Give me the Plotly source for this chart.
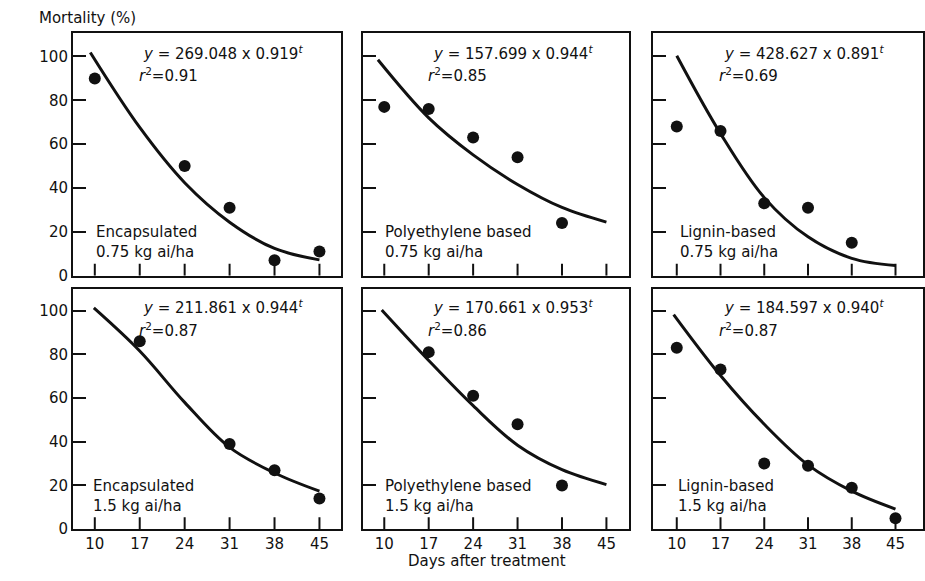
import plotly.graph_objects as go

# ---- data -------------------------------------------------------------
DAY_TICKS = [10, 17, 24, 31, 38, 45]
MORTALITY_TICKS = [0, 20, 40, 60, 80, 100]

formulation = ["Encapsulated", "Polyethylene based", "Lignin-based",
               "Encapsulated", "Polyethylene based", "Lignin-based"]
dose = ["0.75 kg ai/ha", "0.75 kg ai/ha", "0.75 kg ai/ha",
        "1.5 kg ai/ha", "1.5 kg ai/ha", "1.5 kg ai/ha"]

# fitted model y = a x b^t and its r^2, as printed on each panel
coef_a = ["269.048", "157.699", "428.627", "211.861", "170.661", "184.597"]
coef_b = ["0.919", "0.944", "0.891", "0.944", "0.953", "0.940"]
r_squared = ["0.91", "0.85", "0.69", "0.87", "0.86", "0.87"]

# observed mortality (%)
obs_days = [
    [10, 24, 31, 38, 45],
    [10, 17, 24, 31, 38],
    [10, 17, 24, 31, 38],
    [17, 31, 38, 45],
    [17, 24, 31, 38],
    [10, 17, 24, 31, 38, 45],
]
obs_mortality = [
    [90, 50, 31, 7, 11],
    [77, 76, 63, 54, 24],
    [68, 66, 33, 31, 15],
    [86, 39, 27, 14],
    [81, 61, 48, 20],
    [83, 73, 30, 29, 19, 5],
]

# fitted decline curves
fit_days = [
    [9.3, 17, 24, 31, 38, 45],
    [9.0, 17, 24, 31, 38, 45],
    [10, 17, 24, 31, 38, 45],
    [9.85, 17, 24, 31, 38, 45],
    [9.6, 17, 24, 31, 38, 45],
    [9.5, 17, 24, 31, 38, 45],
]
fit_mortality = [
    [101.8, 67.6, 42.4, 24.4, 12.4, 7.2],
    [98.5, 72.0, 55.1, 41.6, 31.1, 24.4],
    [100.3, 64.8, 35.6, 17.7, 7.9, 4.6],
    [101.2, 81.5, 58.0, 37.4, 25.7, 17.4],
    [100.3, 77.2, 56.5, 38.4, 27.2, 20.4],
    [98.2, 70.3, 48.0, 29.4, 17.4, 9.2],
]

# ---- layout / style ---------------------------------------------------
INK = "#111111"
FONT = "DejaVu Sans"
FIG_W, FIG_H = 925, 581
COL_DOMAINS = [(0.0789, 0.3686), (0.3921, 0.6803), (0.7063, 0.9975)]
ROW_DOMAINS = [(0.5181, 0.9415), (0.0749, 0.4952)]
COL_XRANGES = [(6.6, 48.35), (6.6, 48.6), (6.25, 49.35)]
ROW_YRANGES = [(0, 110.5), (0, 110)]
LABEL_X = [0.077, 0.075, 0.092, 0.068, 0.075, 0.083]
X_TICK_PX = 12
TICK_W = 2
FRAME_W = 2

fig = go.Figure()
layout = {}
annotations = []

for i in range(6):
    row, col = divmod(i, 3)
    n = "" if i == 0 else str(i + 1)
    xa, ya = "x" + n, "y" + n
    y0, y1 = ROW_YRANGES[row]
    d0, d1 = ROW_DOMAINS[row]
    # tick length expressed in axis units so it stays X_TICK_PX tall
    tick_h = X_TICK_PX * (y1 - y0) / ((d1 - d0) * FIG_H)

    # upward day ticks standing on the bottom frame line
    tx, ty = [], []
    for d in DAY_TICKS:
        tx += [d, d, None]
        ty += [y0, y0 + tick_h, None]
    fig.add_trace(go.Scatter(
        x=tx, y=ty, mode="lines", line=dict(color=INK, width=TICK_W),
        xaxis=xa, yaxis=ya, hoverinfo="skip", cliponaxis=False))

    fig.add_trace(go.Scatter(
        x=fit_days[i], y=fit_mortality[i], mode="lines",
        line=dict(color=INK, width=3, shape="spline", smoothing=1.0),
        xaxis=xa, yaxis=ya, hoverinfo="skip"))
    fig.add_trace(go.Scatter(
        x=obs_days[i], y=obs_mortality[i], mode="markers",
        marker=dict(color=INK, size=12),
        xaxis=xa, yaxis=ya))

    layout["xaxis" + n] = dict(
        domain=COL_DOMAINS[col], range=COL_XRANGES[col], anchor=ya,
        tickmode="linear", tick0=DAY_TICKS[0],
        dtick=DAY_TICKS[1] - DAY_TICKS[0], ticks="",
        showticklabels=(row == 1),
        showline=True, mirror=True, linewidth=FRAME_W, linecolor=INK,
        showgrid=False, zeroline=False,
        tickfont=dict(family=FONT, size=15, color=INK))
    layout["yaxis" + n] = dict(
        domain=ROW_DOMAINS[row], range=ROW_YRANGES[row], anchor=xa,
        tickmode="linear", tick0=MORTALITY_TICKS[0],
        dtick=MORTALITY_TICKS[1] - MORTALITY_TICKS[0],
        ticks="inside", ticklen=13, tickwidth=TICK_W, tickcolor=INK,
        showticklabels=(col == 0),
        showline=True, mirror=True, linewidth=FRAME_W, linecolor=INK,
        showgrid=False, zeroline=False,
        tickfont=dict(family=FONT, size=15, color=INK))

    dom = f"{xa} domain"
    ydom = f"{ya} domain"
    eq_y = 0.92 if row == 0 else 0.923
    annotations.append(dict(
        xref=dom, yref=ydom, x=0.255, y=eq_y, xanchor="left", yanchor="middle",
        text=f"<i>y</i> = {coef_a[i]} x {coef_b[i]}<sup><i>t</i></sup>",
        showarrow=False, font=dict(family=FONT, size=15, color=INK)))
    annotations.append(dict(
        xref=dom, yref=ydom, x=0.238, y=eq_y - 0.093, xanchor="left",
        yanchor="middle", text=f"<i>r</i><sup>2</sup>={r_squared[i]}",
        showarrow=False, font=dict(family=FONT, size=15, color=INK)))
    annotations.append(dict(
        xref=dom, yref=ydom, x=LABEL_X[i], y=0.137, xanchor="left",
        yanchor="middle", align="left",
        text=f"{formulation[i]}<br>{dose[i]}",
        showarrow=False, font=dict(family=FONT, size=15, color=INK)))

# short outward ticks on the left-hand column
for k, base, anchor, row in ((7, "y", "x", 0), (8, "y4", "x4", 1)):
    layout[f"yaxis{k}"] = dict(
        overlaying=base, anchor=anchor, side="left",
        range=ROW_YRANGES[row], tickmode="linear",
        tick0=MORTALITY_TICKS[0],
        dtick=MORTALITY_TICKS[1] - MORTALITY_TICKS[0],
        ticks="outside", ticklen=6, tickwidth=TICK_W, tickcolor=INK,
        showticklabels=False, showline=False, showgrid=False, zeroline=False)

annotations.append(dict(
    xref="paper", yref="paper", x=37 / FIG_W, y=0.968, xanchor="left",
    yanchor="middle", text="Mortality (%)", showarrow=False,
    font=dict(family=FONT, size=15, color=INK)))
annotations.append(dict(
    xref="paper", yref="paper", x=0.527, y=0.0, xanchor="center",
    yanchor="bottom", text="Days after treatment", showarrow=False,
    font=dict(family=FONT, size=15, color=INK)))

fig.update_layout(
    width=FIG_W, height=FIG_H, margin=dict(l=0, r=0, t=0, b=0),
    paper_bgcolor="white", plot_bgcolor="white", showlegend=False,
    annotations=annotations, **layout)

fig.write_html("out.html")
